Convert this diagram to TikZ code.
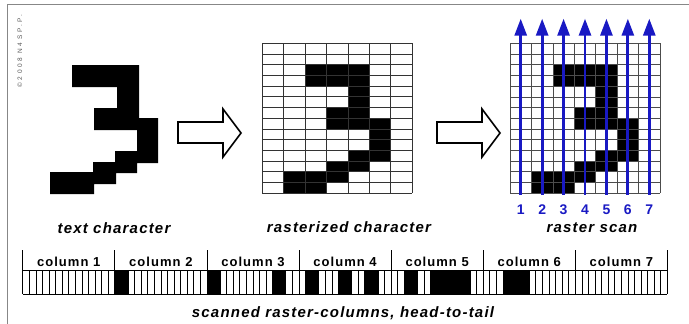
\documentclass[tikz,border=0pt]{standalone}
\usepackage{fontspec}
\setmainfont{Liberation Sans}
\newfontfamily\spacedfont[LetterSpace=8]{Liberation Sans}
\newfontfamily\wideletters[LetterSpace=40]{Liberation Sans}
\usetikzlibrary{arrows.meta}
\definecolor{scanblue}{RGB}{25,25,195}
\definecolor{framegray}{RGB}{135,135,135}
\def\blackcells{2/2,3/2,4/2,2/3,3/3,4/3,4/4,4/5,3/6,4/6,3/7,4/7,5/7,5/8,5/9,4/10,5/10,3/11,4/11,1/12,2/12,3/12,1/13,2/13}

\begin{document}
\begin{tikzpicture}[x=1pt,y=-1pt,
  lbl/.style={font=\spacedfont\fontsize{15}{18}\selectfont\bfseries\itshape, inner sep=0pt, anchor=base},
  collbl/.style={font=\spacedfont\fontsize{13}{15}\selectfont\bfseries, inner sep=0pt, anchor=base},
  num/.style={font=\fontsize{14}{16}\selectfont\bfseries, text=scanblue, inner sep=0pt, anchor=base},
  hollow/.style={draw=black, fill=white, line width=1.6pt, line join=miter},
  midgrid/.style={draw=black!80, line width=0.9pt},
  fine/.style={draw=black!70, line width=0.7pt},
  scan/.style={draw=scanblue, line width=2.8pt, -{Triangle[length=17pt,width=12pt]}}]
  \useasboundingbox (0,0) rectangle (689,324);
  \draw[framegray, line width=1.5pt] (7.5,324) -- (7.5,4.5) -- (689,4.5);
  \node[font=\wideletters\fontsize{6.5}{7}\selectfont, text=black!65, rotate=90, inner sep=0pt] (copy) at (20,51) {\copyright2008 N4SP.P.};

  \fill (72,65) -- (139,65) -- (139,118) -- (158,118) -- (158,163) -- (137,163) -- (137,173)
    -- (116,173) -- (116,184) -- (94,184) -- (94,194) -- (50,194) -- (50,172) -- (93,172)
    -- (93,162) -- (115,162) -- (115,151) -- (137,151) -- (137,130) -- (94,130) -- (94,108)
    -- (117,108) -- (117,87) -- (72,87) -- cycle;
  \node[lbl] (txt) at (114,233) {text character};

  \foreach \x in {178,437}
    \draw[hollow] (\x,122) -- ++(45,0) -- ++(0,-13) -- ++(18,24) -- ++(-18,24) -- ++(0,-14) -- ++(-45,0) -- cycle;

  \begin{scope}[shift={(262.3pt,-43.3pt)},x=21.43pt,y=-10.71pt]
    \foreach \c/\r in \blackcells \fill (\c,\r) rectangle ++(1,1);
    \foreach \i in {0,...,7} \draw[midgrid] (\i,0) -- (\i,14);
    \foreach \j in {0,...,14} \draw[midgrid] (0,\j) -- (7,\j);
  \end{scope}
  \node[lbl] (ras) at (349,232) {rasterized character};

  \begin{scope}[shift={(510pt,-43.3pt)},x=21.43pt,y=-10.71pt]
    \foreach \c/\r in \blackcells \fill (\c,\r) rectangle ++(1,1);
    \foreach \i in {0,0.5,...,7} \draw[fine] (\i,0) -- (\i,14);
    \foreach \j in {0,...,14} \draw[fine] (0,\j) -- (7,\j);
    \foreach \c in {1,...,7} {
      \coordinate (b\c) at (\c-0.5,14.15);
      \coordinate (t\c) at (\c-0.5,-2.3);
      \draw[scan] (b\c) -- (t\c);
      \node[num] (n\c) at (\c-0.5,15.94) {\c};
    }
  \end{scope}
  \node[lbl] (scn) at (592,232) {raster scan};

  \begin{scope}[shift={(22.7pt,-270.7pt)},x=6.5786pt]
    \foreach \c/\r in \blackcells \fill ({14*\c+13-\r},0) rectangle ++(1,23.3);
    \foreach \k in {0,...,98} \draw[fine, draw=black] (\k,0) -- (\k,23.3);
    \draw[fine, draw=black] (0,0) -- (98,0) (0,23.3) -- (98,23.3);
    \foreach \k in {0,...,7} \draw[fine, draw=black] (14*\k,-20.7) -- (14*\k,0);
    \foreach \c in {1,...,7} \node[collbl] (col\c) at (14*\c-7,-4.7) {column \c};
  \end{scope}
  \node[lbl] (cap) at (343,317) {scanned raster-columns, head-to-tail};
\end{tikzpicture}
\end{document}
